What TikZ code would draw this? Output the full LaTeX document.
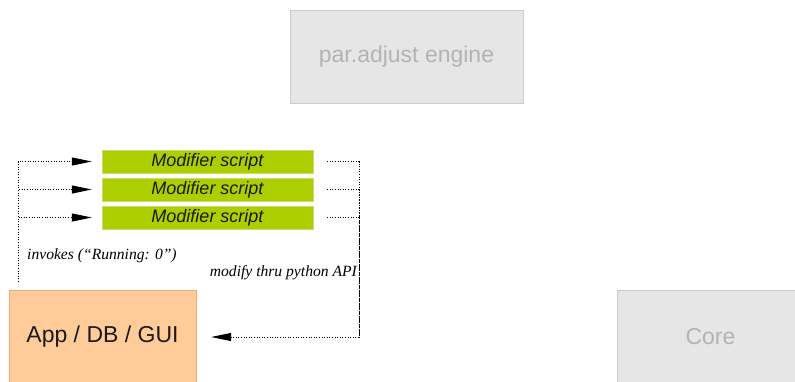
\documentclass[tikz,border=0pt]{standalone}
\usepackage{fontspec}
\setmainfont{Liberation Sans}
\newfontfamily\labelfont{Liberation Serif}
\usetikzlibrary{arrows.meta}

\definecolor{grisfondo}{HTML}{E6E6E6}
\definecolor{grisborde}{HTML}{CCCCCC}
\definecolor{gristexto}{HTML}{B3B3B3}
\definecolor{verdescript}{HTML}{ADCF00}
\definecolor{verdeborde}{HTML}{C6E070}
\definecolor{naranja}{HTML}{FFCC99}
\definecolor{naranjaborde}{HTML}{F7A878}

\tikzset{
  bloque/.style={draw=grisborde, fill=grisfondo, text=gristexto, inner sep=0pt,
    font=\fontsize{23}{26}\selectfont},
  script/.style={draw=verdeborde, fill=verdescript, text=black!90, inner sep=0pt,
    minimum width=211pt, minimum height=23pt, font=\fontsize{18}{20}\selectfont\itshape},
  punteado/.style={line width=1pt, dash pattern=on 1pt off 1.6pt},
  flecha/.style={punteado, -{Triangle[length=20pt,width=8pt]}},
  etiqueta/.style={font=\labelfont\itshape\fontsize{15.6}{18}\selectfont, inner sep=0pt}
}

\begin{document}
\begin{tikzpicture}[x=1pt,y=-1pt]
\useasboundingbox (0,0) rectangle (795,381);

% Motor
\node[bloque, minimum width=233pt, minimum height=93pt] (engine) at (406.5,56.5) {par.adjust engine};

% Scripts
\node[script] (mod1) at (207.5,161.5) {Modifier script};
\node[script] (mod2) at (207.5,189.5) {Modifier script};
\node[script] (mod3) at (207.5,217.5) {Modifier script};

% Aplicacion y nucleo
\node[bloque, draw=naranjaborde, fill=naranja, text=black!90,
  minimum width=187pt, minimum height=94pt] (app) at (102.5,337) {App / DB / GUI};
\node[bloque, minimum width=187pt, minimum height=94pt] (core) at (710.5,337) {Core};

% Invocaciones
\coordinate (pie) at (18,282);
\foreach \m in {mod1,mod2,mod3}
  \draw[flecha, shorten >=10pt] (pie) |- (\m.west);
\node[etiqueta, anchor=base west] (invokes) at (27,259.3) {invokes (“Running: 0”)};

% Modificaciones
\coordinate (esquina) at (359,337);
\foreach \m in {mod1,mod2,mod3}
  \draw[punteado, shorten <=14pt] (\m.east) -| (esquina);
\draw[flecha, shorten >=15pt] (esquina) -- (app.east);
\node[etiqueta, anchor=base east] (modify) at (357,276.7) {modify thru python API};

\end{tikzpicture}
\end{document}
